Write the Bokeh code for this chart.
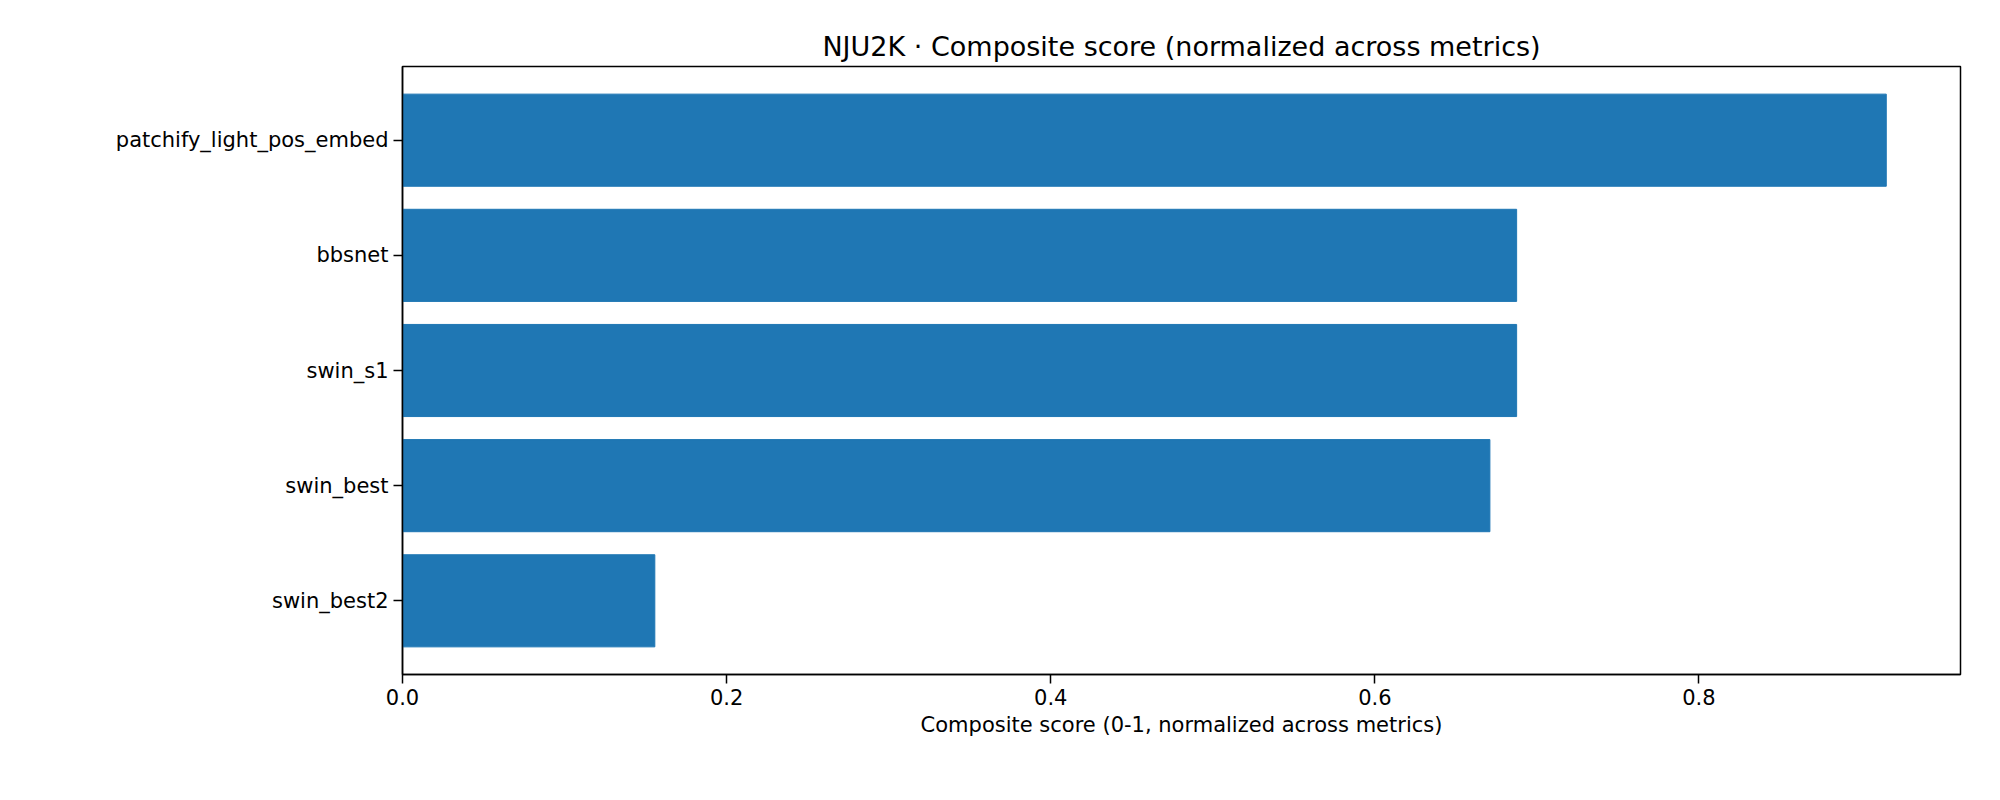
from bokeh.plotting import figure
from bokeh.models import Range1d, FixedTicker
from bokeh.embed import file_html
from bokeh.resources import INLINE

models = ["patchify_light_pos_embed", "bbsnet", "swin_s1", "swin_best", "swin_best2"]
scores = [0.9156, 0.6875, 0.6875, 0.671, 0.1557]
ypos = [4, 3, 2, 1, 0]

p = figure(width=1984, height=784, output_backend="svg", toolbar_location=None,
           x_range=Range1d(0, 0.9614), y_range=Range1d(-0.64, 4.64),
           title="NJU2K · Composite score (normalized across metrics)",
           x_axis_label="Composite score (0-1, normalized across metrics)")
p.min_border_left = 402
p.min_border_right = 24
p.min_border_top = 66
p.min_border_bottom = 110
p.hbar(y=ypos, right=scores, left=0, height=0.8, color="#1f77b4")

p.title.align = "center"
p.title.text_font = "DejaVu Sans"
p.title.text_font_size = "27px"
p.title.text_font_style = "normal"
p.title.text_color = "black"
p.grid.visible = False
p.outline_line_color = "black"
p.outline_line_width = 1.5

p.xaxis.ticker = FixedTicker(ticks=[0.0, 0.2, 0.4, 0.6, 0.8])
p.xaxis.major_label_overrides = {0.0: "0.0", 0.2: "0.2", 0.4: "0.4", 0.6: "0.6", 0.8: "0.8"}
p.yaxis.ticker = FixedTicker(ticks=ypos)
p.yaxis.major_label_overrides = {y: m for y, m in zip(ypos, models)}
for ax in (p.xaxis, p.yaxis):
    ax.minor_tick_line_color = None
    ax.major_tick_out = 9
    ax.major_tick_in = 0
    ax.major_tick_line_width = 1.5
    ax.axis_line_width = 1.5
    ax.major_label_text_font = "DejaVu Sans"
    ax.major_label_text_font_size = "21px"
    ax.major_label_text_color = "black"
    ax.axis_label_text_font = "DejaVu Sans"
    ax.axis_label_text_font_size = "21px"
    ax.axis_label_text_font_style = "normal"
    ax.axis_label_text_color = "black"
    ax.axis_line_color = "black"

open("out.html", "w").write(file_html(p, INLINE))
